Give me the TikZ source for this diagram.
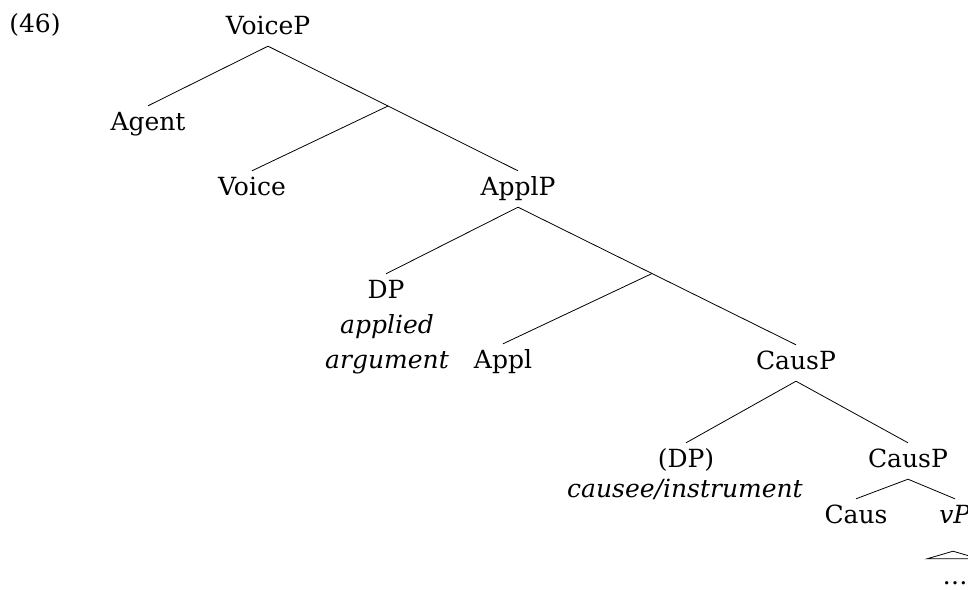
\documentclass[tikz,border=0pt]{standalone}
\usepackage{fontspec}
\setmainfont{DejaVu Serif}
\usetikzlibrary{positioning, calc}

\begin{document}
\begin{tikzpicture}[
    x=1pt, y=-1pt,
    every node/.style={font=\fontsize{25}{35}\selectfont},
    cat/.style={anchor=base, inner xsep=0pt, inner ysep=6pt, text height=18pt, text depth=6pt},
    gloss/.style={anchor=base, inner sep=0pt, font=\fontsize{25}{35}\selectfont\itshape},
    branch/.style={line width=0.8pt}
]
\useasboundingbox (0,0) rectangle (968,589);

\node[anchor=base, inner sep=0pt] (exnum) at (35,32) {(46)};

% nodes of the tree
\node[cat] (voicep) at (268,34) {VoiceP};
\node[cat] (agent) at (148,130) {Agent};
\node[cat] (voice) at (252,195) {Voice};
\node[cat] (applp) at (518,195) {ApplP};
\node[cat] (dp) at (386,298) {DP};
\node[gloss, align=center] (dpgloss) at (387,368) {applied\\argument};
\node[cat] (appl) at (503,368) {Appl};
\node[cat] (causp) at (796,369) {CausP};
\node[cat] (causee) at (686,467) {(DP)};
\node[gloss] (causeegloss) at (685,497) {causee/instrument};
\node[cat] (causpb) at (908,467) {CausP};
\node[cat] (caus) at (856,523) {Caus};
\node[cat] (vp) at (955,523) {\textit{vP}};
\node[cat] (dots) at (955,584) {…};

% bar levels
\coordinate (vbar) at ($(voicep.south)!.48!(applp.north)$);
\coordinate (abar) at ($(applp.south)!.482!(causp.north)$);

% branches
\draw[branch] (voicep.south) -- (agent.north);
\draw[branch] (voicep.south) -- (applp.north);
\draw[branch] (vbar) -- (voice.north);
\draw[branch] (applp.south) -- (dp.north);
\draw[branch] (applp.south) -- (causp.north);
\draw[branch] (abar) -- (appl.north);
\draw[branch] (causp.south) -- (causee.north);
\draw[branch] (causp.south) -- (causpb.north);
\draw[branch] (causpb.south) -- (caus.north);
\draw[branch] (causpb.south) -- (vp.north);
\draw[branch] ($(dots.north)+(-28,-1)$) -- ($(vp.south)+(-2,16)$) -- ($(dots.north)+(24,-1)$) -- cycle;

\end{tikzpicture}
\end{document}
